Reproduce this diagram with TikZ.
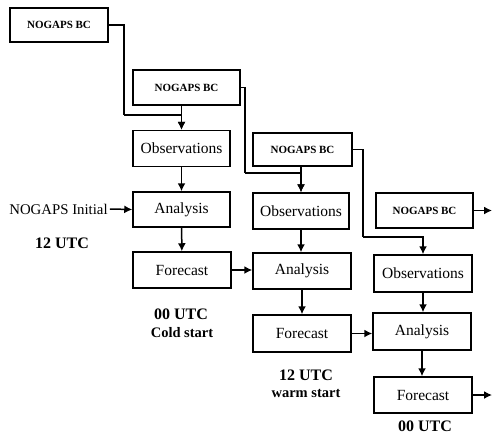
\documentclass[tikz,border=0pt]{standalone}
\usepackage{fontspec}
\setmainfont{Liberation Serif}
\usetikzlibrary{arrows.meta}
\begin{document}
\begin{tikzpicture}[x=1pt,y=-1pt,
  box/.style={draw,line width=1.5pt,minimum width=97pt,minimum height=36pt,inner sep=0pt,font=\fontsize{15.5}{17}\selectfont},
  bcbox/.style={box,font=\bfseries\fontsize{11}{13}\selectfont},
  lbl/.style={inner sep=0pt,font=\bfseries\fontsize{16}{18}\selectfont},
  sublbl/.style={inner sep=0pt,font=\bfseries\fontsize{14.5}{16}\selectfont},
  conn/.style={line width=1.5pt},
  arr/.style={conn,-{Latex[length=8pt,width=8pt]}}]
\useasboundingbox (0,0) rectangle (494,434);
% column 1
\node[bcbox,minimum width=98pt,minimum height=34pt] (bc1) at (59,25) {NOGAPS BC};
\node[bcbox,minimum width=107pt,minimum height=35pt] (bc2) at (186.5,87.5) {NOGAPS BC};
\node[box] (obs1) at (181.5,148.5) {Observations};
\node[box,minimum height=35pt] (ana1) at (181.5,209.5) {Analysis};
\node[box,minimum width=98pt] (fc1) at (182,270) {Forecast};
% column 2
\node[bcbox,minimum width=99pt,minimum height=33pt] (bc3) at (302.5,149.5) {NOGAPS BC};
\node[box,minimum width=96pt] (obs2) at (301,211) {Observations};
\node[box,minimum width=98pt] (ana2) at (302,271) {Analysis};
\node[box,minimum width=98pt,minimum height=37pt] (fc2) at (302,333.5) {Forecast};
% column 3
\node[bcbox,minimum height=35pt] (bc4) at (424.5,210.5) {NOGAPS BC};
\node[box,minimum width=98pt,minimum height=37pt] (obs3) at (423,273.5) {Observations};
\node[box,minimum width=98pt,minimum height=37pt] (ana3) at (422,331.5) {Analysis};
\node[box,minimum width=98pt] (fc3) at (423,395) {Forecast};
% labels
\node[inner sep=0pt,font=\fontsize{14.8}{16}\selectfont] (ni) at (58.5,209) {NOGAPS Initial};
\node[lbl] (t1) at (62,243) {12 UTC};
\node[lbl] (t2) at (181,314) {00 UTC};
\node[sublbl] (s2) at (182,333) {Cold start};
\node[lbl] (t3) at (306,375) {12 UTC};
\node[sublbl] (s3) at (306,393) {warm start};
\node[lbl] (t4) at (425,426) {00 UTC};
% junction coordinates
\coordinate (j1) at (124,115);
\coordinate (j2) at (245,173);
\coordinate (j3) at (363,237);
\coordinate (e1) at (492,210.5);
\coordinate (e2) at (492,395);
% connectors
\draw[conn] (bc1.east) -| (j1);
\draw[arr] (j1) -| (obs1.north);
\draw[arr] (bc2.south -| obs1.north) -- (obs1.north);
\draw[conn] (bc2.east) -| (j2);
\draw[arr] (j2) -| (obs2.north);
\draw[arr] (bc3.south -| obs2.north) -- (obs2.north);
\draw[conn] (bc3.east) -| (j3);
\draw[arr] (j3) -| (obs3.north);
\draw[arr] (bc4.east) -- (e1);
\draw[arr] (obs1) -- (ana1);
\draw[arr] (ana1) -- (fc1);
\draw[arr] (obs2.south) -- (obs2.south |- ana2.north);
\draw[arr] (ana2.south) -- (ana2.south |- fc2.north);
\draw[arr] (obs3.south) -- (obs3.south |- ana3.north);
\draw[arr] (ana3.south) -- (ana3.south |- fc3.north);
\draw[arr] ([xshift=2pt]ni.east) -- (ana1.west);
\draw[arr] (fc1.east) -- (fc1.east -| ana2.west);
\draw[arr] (fc2.east) -- (fc2.east -| ana3.west);
\draw[arr] (fc3.east) -- (e2);
\end{tikzpicture}
\end{document}
